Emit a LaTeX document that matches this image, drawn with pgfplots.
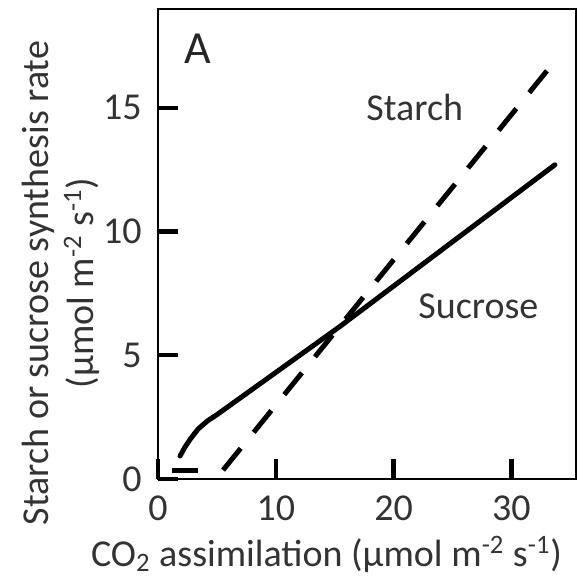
\documentclass[border=0pt]{standalone}
\usepackage{fontspec}
\setmainfont{Carlito}
\usepackage{pgfplots}
\pgfplotsset{compat=1.18}
\begin{document}
\begin{tikzpicture}
\begin{axis}[
  scale only axis,
  width=209pt, height=235pt,
  xmin=0, xmax=35.5, ymin=0, ymax=19,
  axis line style={line width=1pt},
  xtick={0,10,20,30}, ytick={0,5,10,15},
  xtick pos=left, ytick pos=left,
  tick align=inside,
  major tick length=10pt,
  every tick/.style={line width=2.2pt, black},
  /pgf/number format/assume math mode=true,
  tick label style={font=\fontsize{19}{22}\selectfont, text=black!80, inner sep=0pt},
  xticklabel style={anchor=north, yshift=-8pt},
  yticklabel style={anchor=east, xshift=-8pt},
  label style={font=\fontsize{19}{22.5}\selectfont, text=black!80},
  xlabel={CO\textsubscript{2} assimilation (µmol m\textsuperscript{-2} s\textsuperscript{-1})},
  ylabel={Starch or sucrose synthesis rate\\(µmol m\textsuperscript{-2} s\textsuperscript{-1})},
  xlabel style={at={(axis description cs:0.403,-0.161)}, anchor=center},
  ylabel style={at={(axis description cs:-0.232,0.417)}, anchor=center, align=center},
  clip=false,
]
\addplot[black, line width=2.5pt, line join=round, line cap=round] coordinates {
  (1.87,0.93) (2.3,1.3) (2.75,1.62) (3.4,2.02) (4.2,2.35) (5,2.6) (15.4,6.15) (33.7,12.7)
};
\addplot[black, line width=2.5pt] coordinates {(1.2,0.36) (3.4,0.36)};
\addplot[black, line width=2.5pt, dash pattern=on 14pt off 10.3pt] coordinates {(5.52,0.36) (33.13,16.56)};
\node[font=\fontsize{23}{25}\selectfont, text=black!85] at (axis cs:3.4,17.4) {A};
\node[font=\fontsize{19}{22}\selectfont, text=black!80] at (axis cs:21.8,15.0) {Starch};
\node[font=\fontsize{19}{22}\selectfont, text=black!80] at (axis cs:27.2,7.0) {Sucrose};
\coordinate (bbl) at (axis description cs:-0.378,-0.2106);
\coordinate (btr) at (axis description cs:1.0024,1.019);
\end{axis}
\pgfresetboundingbox
\path (bbl) rectangle (btr);
\end{tikzpicture}
\end{document}
